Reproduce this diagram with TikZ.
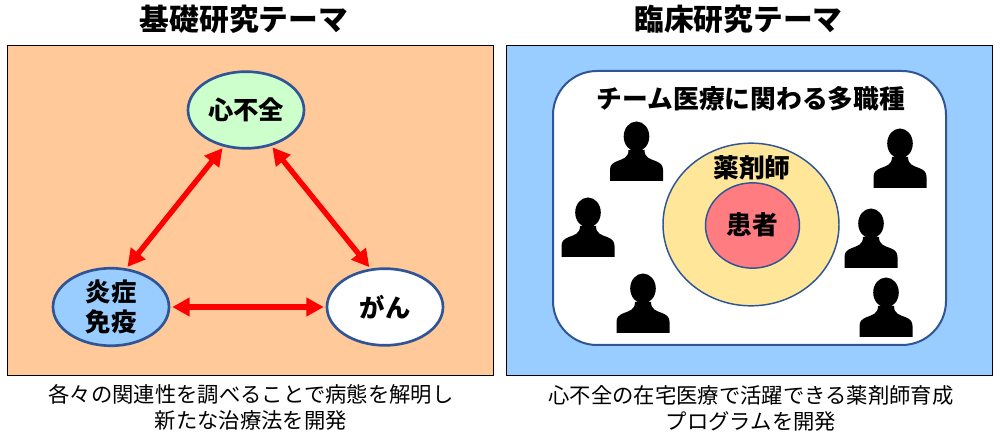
\documentclass[tikz,border=0pt]{standalone}
\usepackage{fontspec}
\setmainfont{Noto Sans CJK JP}[BoldFont={Noto Sans CJK JP Black}]
\usetikzlibrary{arrows.meta,shapes.geometric}

\definecolor{panelorange}{HTML}{FFC999}
\definecolor{panelblue}{HTML}{99CCFF}
\definecolor{rimblue}{HTML}{2F5597}
\definecolor{nodegreen}{HTML}{CCFFCC}
\definecolor{ringyellow}{HTML}{FFE699}
\definecolor{corered}{HTML}{FF7C80}

\tikzset{
  panel/.style={draw=black,line width=.75pt},
  topic/.style={ellipse,draw=rimblue,line width=2pt,minimum width=87pt,minimum height=57.5pt,inner sep=0pt,outer sep=0pt,align=center,font=\bfseries\fontsize{19}{23}\selectfont},
  ring/.style={ellipse,draw=rimblue,line width=1.1pt,inner sep=0pt,outer sep=0pt},
  heading/.style={font=\bfseries\fontsize{22.3}{26}\selectfont},
  caption/.style={font=\fontsize{16}{19.5}\selectfont,align=center},
  boldlabel/.style={font=\bfseries\fontsize{19.3}{24}\selectfont},
  link/.style={draw=red,line width=4pt,{Triangle[length=13pt,width=13.5pt]}-{Triangle[length=13pt,width=13.5pt]},shorten >=2.5pt,shorten <=2.5pt},
  person/.pic={
    \fill[black] (0,-44.5) ellipse (12.8 and 15);
    \fill[black] (-26.5,0) -- (-26.5,-11) .. controls (-26.5,-16) and (-24,-18) .. (-19,-20)
      .. controls (-14,-22) and (-8,-23) .. (-8,-31) -- (8,-31)
      .. controls (8,-23) and (14,-22) .. (19,-20)
      .. controls (24,-18) and (26.5,-16) .. (26.5,-11) -- (26.5,0) -- cycle;
  }
}

\begin{document}
\begin{tikzpicture}[x=.75pt,y=-.75pt]
\useasboundingbox (0,0) rectangle (1000,438);

% left panel
\node[heading] (basictitle) at (244,19) {基礎研究テーマ};
\path[panel,fill=panelorange] (7.5,45.5) rectangle (493.5,375.5);
\node[topic,fill=nodegreen] (heart) at (246,110) {心不全};
\node[topic,fill=panelblue] (immune) at (111,307) {炎症\\免疫};
\node[topic,fill=white] (cancer) at (385,307) {がん};
\draw[link] (heart.-121) -- (immune.69);
\draw[link] (heart.-55) -- (cancer.110);
\draw[link] (immune.east) -- (cancer.west);
\node[caption] (basiccaption) at (251,407) {各々の関連性を調べることで病態を解明し\\新たな治療法を開発};

% right panel
\node[heading] (clinicaltitle) at (738.5,19) {臨床研究テーマ};
\path[panel,fill=panelblue] (506.5,45.5) rectangle (992.5,375.5);
\path[draw=rimblue,line width=1.5pt,fill=white,rounded corners=33pt] (553,71) rectangle (946,345);
\node[boldlabel] (team) at (751,99) {チーム医療に関わる多職種};
\node[ring,fill=ringyellow,minimum width=132pt,minimum height=122pt] (pharmacist) at (751,224.5) {};
\node[ring,fill=corered,minimum width=70.5pt,minimum height=64pt] (patient) at (752.5,225.5) {};
\node[boldlabel] (pharmacistlabel) at (752,168) {薬剤師};
\node[boldlabel] (patientlabel) at (752,225) {患者};
\foreach \px/\py in {636.5/181,588/257,643/333,900/188,871/268,886/337}
  \pic at (\px,\py) {person};
\node[caption] (clinicalcaption) at (751,408) {心不全の在宅医療で活躍できる薬剤師育成\\プログラムを開発};
\end{tikzpicture}
\end{document}
